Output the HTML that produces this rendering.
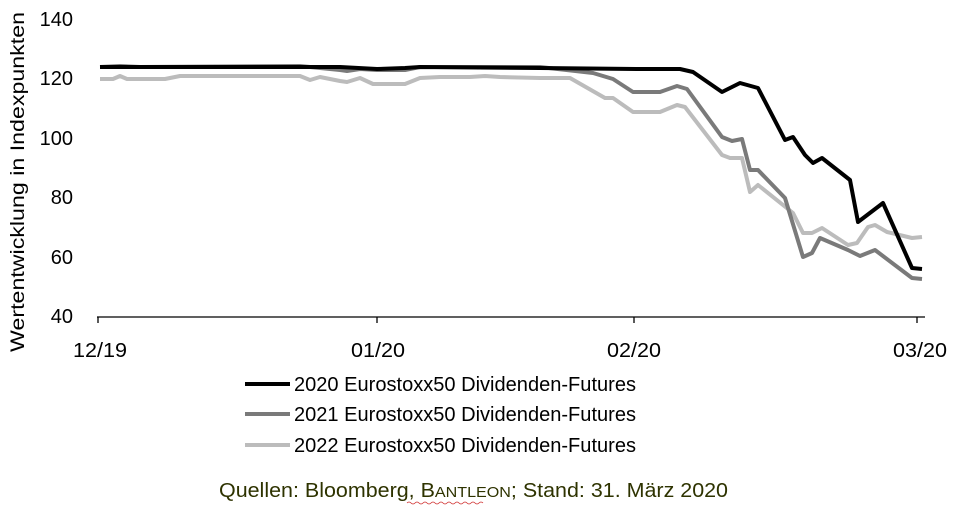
<!DOCTYPE html>
<html><head><meta charset="utf-8"><style>html,body{margin:0;padding:0;background:#fff;}svg{display:block}</style></head>
<body>
<svg width="960" height="513" viewBox="0 0 960 513" xmlns="http://www.w3.org/2000/svg" font-family="Liberation Sans, sans-serif">
<rect width="960" height="513" fill="#fff"/>
<g font-size="20" fill="#000" text-anchor="end">
<text x="73" y="26">140</text>
<text x="73" y="85">120</text>
<text x="73" y="145">100</text>
<text x="73" y="204">80</text>
<text x="73" y="264">60</text>
<text x="73" y="323">40</text>
</g>
<text transform="translate(24,182) rotate(-90)" font-size="19" text-anchor="middle" textLength="340" lengthAdjust="spacingAndGlyphs">Wertentwicklung in Indexpunkten</text>
<g stroke="#000" stroke-width="1.3" fill="none">
<line x1="97" y1="317" x2="925" y2="317"/>
<line x1="98" y1="317" x2="98" y2="323"/>
<line x1="377" y1="317" x2="377" y2="323"/>
<line x1="634" y1="317" x2="634" y2="323"/>
<line x1="917" y1="317" x2="917" y2="323"/>
</g>
<g font-size="20" text-anchor="middle">
<text x="100" y="357" textLength="54" lengthAdjust="spacingAndGlyphs">12/19</text>
<text x="378" y="357" textLength="54" lengthAdjust="spacingAndGlyphs">01/20</text>
<text x="634" y="357" textLength="54" lengthAdjust="spacingAndGlyphs">02/20</text>
<text x="920" y="357" textLength="54" lengthAdjust="spacingAndGlyphs">03/20</text>
</g>
<g fill="none" stroke-width="4" stroke-linejoin="round">
<polyline stroke="#bcbcbc" points="100,79 113,79 120,76 127,79 165,79 180,76 300,76 310,80 320,77 340,81 347,82 360,78 373,84 405,84 420,78 440,77 470,77 485,76 500,77 540,78 570,78 605,98 613,98 633,112 660,112 677,105 685,107 722,155 730,158 742,158 750,192 758,185 793,213 803,233 812,233 822,228 848,245 857,243 868,227 875,225 887,232 912,238 922,237"/>
<polyline stroke="#7a7a7a" points="100,67 120,66 140,67 300,66 320,68 340,70 347,71 360,69 377,70 405,70 420,67 540,67 593,73 613,79 633,92 660,92 677,86 687,89 722,137 732,141 742,139 750,170 758,170 785,198 803,257 812,253 820,238 848,250 860,256 875,250 912,278 922,279"/>
<polyline stroke="#000" points="100,67 340,67 377,69 405,68 420,67 540,68 640,69 680,69 693,72 722,92 740,83 758,88 785,140 793,137 805,155 813,163 822,158 850,180 858,222 883,203 912,268 922,269"/>
</g>
<g stroke-width="4">
<line x1="245" y1="384" x2="290" y2="384" stroke="#000"/>
<line x1="245" y1="414" x2="290" y2="414" stroke="#7a7a7a"/>
<line x1="245" y1="445" x2="290" y2="445" stroke="#bcbcbc"/>
</g>
<g font-size="20">
<text x="294" y="391" textLength="342" lengthAdjust="spacingAndGlyphs">2020 Eurostoxx50 Dividenden-Futures</text>
<text x="294" y="421" textLength="342" lengthAdjust="spacingAndGlyphs">2021 Eurostoxx50 Dividenden-Futures</text>
<text x="294" y="452" textLength="342" lengthAdjust="spacingAndGlyphs">2022 Eurostoxx50 Dividenden-Futures</text>
</g>
<text x="219" y="497" font-size="20" fill="#2e3300" textLength="509" lengthAdjust="spacingAndGlyphs">Quellen: Bloomberg, B<tspan font-size="15">ANTLEON</tspan>; Stand: 31. März 2020</text>
<path d="M407 503 q2 -2 4 0 t4 0 t4 0 t4 0 t4 0 t4 0 t4 0 t4 0 t4 0 t4 0 t4 0 t4 0 t4 0 t4 0 t4 0 t4 0 t4 0 t4 0 t4 0" stroke="#d03030" stroke-width="0.8" fill="none"/>
</svg>
</body></html>
